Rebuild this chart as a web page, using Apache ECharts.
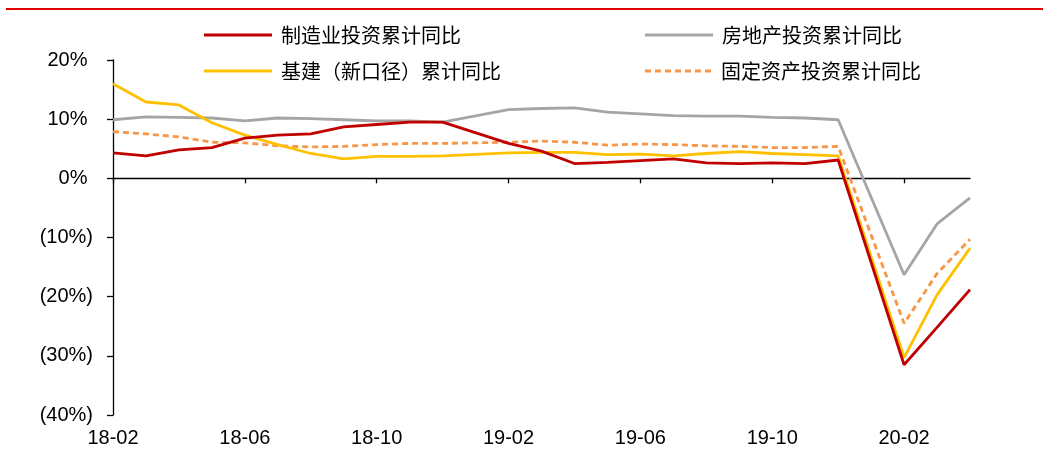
<!DOCTYPE html>
<html>
<head>
<meta charset="utf-8">
<script src="https://cdn.jsdelivr.net/npm/echarts@6/dist/echarts.min.js"></script>
<style>
  html, body { margin: 0; padding: 0; background: #fff; }
  #chart { width: 1043px; height: 461px; }
</style>
</head>
<body>
<div id="chart"></div>
<script>
// 月份（1月无单独数据，用 null 占位）
const months = [
  '18-02', '18-03', '18-04', '18-05', '18-06', '18-07', '18-08', '18-09', '18-10', '18-11', '18-12',
  '19-01', '19-02', '19-03', '19-04', '19-05', '19-06', '19-07', '19-08', '19-09', '19-10', '19-11', '19-12',
  '20-01', '20-02', '20-03', '20-04'
]

// 制造业投资累计同比
const manufacturing = [
  4.3, 3.8, 4.8, 5.2, 6.8, 7.3, 7.5, 8.7, 9.1, 9.5, 9.5,
  null, 5.9, 4.6, 2.5, 2.7, 3.0, 3.3, 2.6, 2.5, 2.6, 2.5, 3.1,
  null, -31.5, -25.2, -18.8
]

// 房地产投资累计同比
const realEstate = [
  9.9, 10.4, 10.3, 10.2, 9.7, 10.2, 10.1, 9.9, 9.7, 9.7, 9.5,
  null, 11.6, 11.8, 11.9, 11.2, 10.9, 10.6, 10.5, 10.5, 10.3, 10.2, 9.9,
  null, -16.3, -7.7, -3.3
]

// 基建（新口径）累计同比
const infrastructure = [
  16.0, 12.9, 12.4, 9.4, 7.3, 5.7, 4.2, 3.3, 3.7, 3.7, 3.8,
  null, 4.3, 4.4, 4.4, 4.0, 4.1, 3.8, 4.2, 4.5, 4.2, 4.0, 3.8,
  null, -30.3, -19.7, -11.8
]

// 固定资产投资累计同比
const fixedAsset = [
  7.9, 7.5, 7.0, 6.1, 6.0, 5.5, 5.3, 5.4, 5.7, 5.9, 5.9,
  null, 6.1, 6.3, 6.1, 5.6, 5.8, 5.7, 5.5, 5.4, 5.2, 5.2, 5.4,
  null, -24.5, -16.1, -10.3
]

const seriesNames = ['制造业投资累计同比', '房地产投资累计同比', '基建（新口径）累计同比', '固定资产投资累计同比']

const chart = echarts.init(document.getElementById('chart'))

const latin = '"Liberation Sans", Arial, sans-serif'
const cjk = '"Noto Sans CJK SC", sans-serif'

// 图例图标：实线 / 虚线
const solidIcon = 'path://M0 0H68V3H0Z'
const dashedIcon = 'path://M0 0H6V3H0Z M10 0H16V3H10Z M20 0H26V3H20Z M30 0H36V3H30Z M40 0H46V3H40Z M50 0H56V3H50Z M60 0H66V3H60Z'

// 图例：每项单独放置
const legendPos = [
  { left: 199, top: 20, icon: solidIcon },
  { left: 640, top: 20, icon: solidIcon },
  { left: 199, top: 56, icon: solidIcon },
  { left: 640, top: 56, icon: dashedIcon }
]
const legends = seriesNames.map((name, i) => ({
  data: [name],
  left: legendPos[i].left,
  top: legendPos[i].top,
  icon: legendPos[i].icon,
  itemWidth: 68,
  itemHeight: 3,
  selectedMode: false,
  textStyle: {
    fontFamily: cjk,
    fontSize: 20,
    color: '#000',
    padding: [0, 0, 0, 4]
  }
}))

function lineSeries(name, data, color, dashed) {
  return {
    name: name,
    type: 'line',
    data: data,
    connectNulls: true,
    symbol: 'none',
    showSymbol: false,
    lineStyle: {
      color: color,
      width: 2.8,
      type: dashed ? [6, 4] : 'solid'
    },
    itemStyle: { color: color }
  }
}

const option = {
  animation: false,
  backgroundColor: '#ffffff',
  legend: legends,
  grid: {
    left: 113,
    right: 73,
    top: 60,
    bottom: 46
  },
  xAxis: [
    // 0 轴线 + 刻度
    {
      type: 'category',
      data: months,
      boundaryGap: false,
      axisLine: { onZero: true, lineStyle: { color: '#000', width: 1.3 } },
      axisTick: { show: true, interval: 3, length: 5, lineStyle: { color: '#000', width: 1.3 } },
      axisLabel: { show: false },
      splitLine: { show: false }
    },
    // 底部标签
    {
      type: 'category',
      data: months,
      position: 'bottom',
      boundaryGap: false,
      axisLine: { show: false, onZero: false },
      axisTick: { show: false },
      axisLabel: {
        interval: 3,
        margin: 13,
        color: '#000',
        fontFamily: latin,
        fontSize: 20
      },
      splitLine: { show: false }
    }
  ],
  yAxis: {
    type: 'value',
    min: -40,
    max: 20,
    interval: 10,
    axisLine: { show: true, lineStyle: { color: '#000', width: 1.3 } },
    axisTick: { show: true, length: 6, lineStyle: { color: '#000', width: 1.3 } },
    splitLine: { show: false },
    axisLabel: {
      margin: 20,
      color: '#000',
      fontFamily: latin,
      fontSize: 20,
      formatter: v => v < 0 ? '(' + (-v) + '%)' : v + '% '
    }
  },
  graphic: [
    {
      type: 'line',
      shape: { x1: 6, y1: 9, x2: 1043, y2: 9 },
      style: { stroke: '#e00000', lineWidth: 2 }
    }
  ],
  series: [
    lineSeries(seriesNames[1], realEstate, '#a5a5a5', false),
    lineSeries(seriesNames[3], fixedAsset, '#f79646', true),
    lineSeries(seriesNames[2], infrastructure, '#ffc000', false),
    lineSeries(seriesNames[0], manufacturing, '#c00000', false)
  ]
}

chart.setOption(option)
</script>
</body>
</html>
